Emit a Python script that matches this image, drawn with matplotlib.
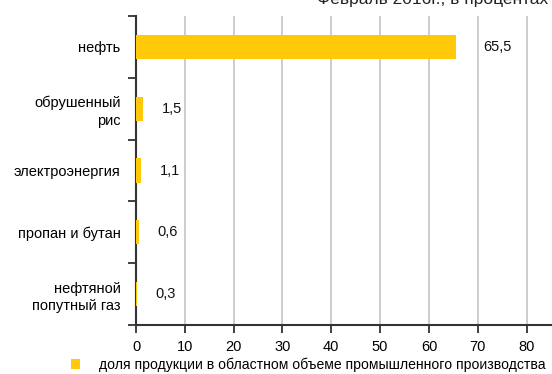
import matplotlib.pyplot as plt
from matplotlib.ticker import FixedLocator

plt.rcParams['font.family'] = ['Liberation Sans', 'DejaVu Sans']

# data
categories = ["нефть", "обрушенный\nрис", "электроэнергия", "пропан и бутан", "нефтяной\nпопутный газ"]
values = [65.5, 1.5, 1.1, 0.6, 0.3]
value_labels = ["65,5", "1,5", "1,1", "0,6", "0,3"]
x_ticks = [0, 10, 20, 30, 40, 50, 60, 70, 80]
series_name = "доля продукции в областном объеме промышленного производства"
title = "Февраль 2016г., в процентах"

BAR_COLOR = "#FFC90A"
AXIS_COLOR = "#333333"

fig = plt.figure(figsize=(5.52, 3.74), dpi=100)
ax = fig.add_axes([0.2464, 0.131, 0.7536, 0.826])

pos = list(range(len(categories)))
bars = ax.barh(pos, values, height=0.39, color=BAR_COLOR, label=series_name, zorder=3)

ax.set_xlim(0, 85.2)
ax.set_ylim(len(categories) - 0.5, -0.5)

# value labels
for p, v, lab in zip(pos, values, value_labels):
    off = 20 if v > 10 else 13
    ax.annotate(lab, (v, p), xytext=(off, 0), textcoords="offset points",
                va="center", ha="left", fontsize=10.5, color="#111111")

# axes styling
for s in ["top", "right"]:
    ax.spines[s].set_visible(False)
for s in ["left", "bottom"]:
    ax.spines[s].set_color(AXIS_COLOR)
    ax.spines[s].set_linewidth(1.5)

ax.set_xticks(x_ticks)
ax.tick_params(axis="x", length=6, width=1.3, color=AXIS_COLOR, labelsize=10.5, pad=5)
ax.grid(axis="x", color="#c4c4c4", linewidth=1.2, zorder=0)
ax.set_axisbelow(True)

ax.set_yticks(pos)
ax.set_yticklabels(categories, fontsize=10.5, ha="right", linespacing=1.3)
ax.tick_params(axis="y", which="major", length=0, pad=11)
ax.yaxis.set_minor_locator(FixedLocator([p - 0.5 for p in pos] + [pos[-1] + 0.5]))
ax.tick_params(axis="y", which="minor", length=6, width=1.3, color=AXIS_COLOR)

# title (its top is cut by the figure edge, as in the source image)
fig.text(0.993, 0.988, title, ha="right", va="baseline", fontsize=12.5, color="#222222")

# legend
fig.legend(handles=[bars], labels=[series_name], loc="lower left",
           bbox_to_anchor=(0.105, -0.028), frameon=False, fontsize=10.1,
           handlelength=0.7, handleheight=0.7, handletextpad=1.3)

fig.savefig("out.png", dpi=100)
